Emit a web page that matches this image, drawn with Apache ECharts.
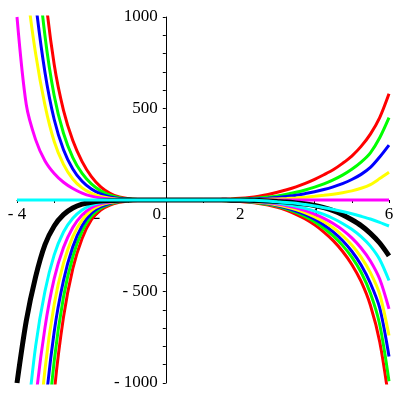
<!DOCTYPE html>
<html><head><meta charset="utf-8">
<script src="https://cdn.jsdelivr.net/npm/echarts@6/dist/echarts.min.js"></script>
<style>html,body{margin:0;padding:0;background:#fff}#c{width:400px;height:400px}</style>
</head><body><div id="c"></div>
<script>
var xs = [-4, -3.75, -3.5, -3.25, -3, -2.75, -2.5, -2.25, -2, -1.75, -1.5, -1.25, -1, -0.75, -0.5, -0.25,
          0, 0.25, 0.5, 0.75, 1, 1.25, 1.5, 1.75, 2, 2.25, 2.5, 2.75, 3, 3.25, 3.5, 3.75, 4, 4.25, 4.5, 4.75, 5, 5.25, 5.5, 5.75, 6];
// upper family
var posRed     = [4200, 2850, 1850, 1150, 740, 490, 325, 210, 128, 72, 37, 17, 7.5, 3, 1, 0.3,
                  0, 0, 0, 0.5, 1, 2, 3.5, 5.5, 9, 14, 21, 30, 42, 56, 72, 91, 113, 138, 165, 200, 240, 293, 360, 450, 580];
var posGreen   = [3000, 2050, 1400, 900, 570, 365, 232, 145, 88, 50, 26, 12, 5, 2, 0.6, 0.1,
                  0, 0, 0, 0.3, 0.8, 1.5, 2.5, 3.8, 5.5, 8, 11, 16, 22, 31, 42, 55, 70, 88, 110, 136, 168, 207, 258, 340, 450];
var posBlue    = [2300, 1580, 1080, 700, 440, 275, 170, 102, 60, 33, 17, 8, 3.5, 1.3, 0.4, 0,
                  0, 0, 0, 0.2, 0.5, 1, 1.6, 2.4, 3.5, 5, 7, 10, 14, 19.5, 26, 35, 45, 57, 72, 90, 112, 140, 178, 235, 300];
var posYellow  = [1650, 1180, 800, 520, 320, 195, 115, 66, 36, 19, 9.5, 4.5, 2, 0.7, 0.2, 0,
                  0, 0, 0, 0, 0.1, 0.3, 0.6, 1, 1.5, 2.2, 3, 4.3, 6, 8.5, 11.5, 15.5, 20, 25.5, 32, 40, 50, 64, 84, 117, 152];
var posMagenta = [1000, 520, 330, 215, 145, 97, 63, 38, 21, 11, 5.5, 2.5, 1, 0.3, 0, 0,
                  0, 0, 0, 0, 0, 0, 0, 0, 0, 0, 0, 0, 0, 0, 0, 0, 0, 0, 0, 0, 0, 0, 0, 0, 0];
var posCyan    = [0, 0, 0, 0, 0, 0, 0, 0, 0, 0, 0, 0, 0, 0, 0, 0,
                  0, 0, 0, 0, 0, 0, 0, 0, 0, -1, -3, -6, -10, -14, -18, -25, -33, -42, -52, -63, -75, -89, -104, -122, -142];
// lower family
var negRed     = [-7500, -4800, -3000, -1800, -1060, -640, -375, -210, -108, -55, -28, -13, -6, -2.5, -1, -0.3,
                  0, 0, -0.2, -0.5, -1, -2, -3, -5, -8, -12.5, -19, -28, -40, -57, -78, -104, -136, -175, -222, -280, -352, -445, -575, -775, -1100];
var negGreen   = [-5800, -3800, -2400, -1450, -880, -530, -310, -170, -88, -45, -22, -10, -5, -2, -0.7, -0.2,
                  0, 0, -0.2, -0.4, -0.9, -1.7, -2.7, -4.5, -7, -11, -16, -24, -35, -50, -68, -91, -119, -154, -196, -248, -312, -395, -510, -680, -990];
var negBlue    = [-4500, -3000, -1900, -1170, -720, -440, -255, -140, -72, -37, -18, -8.5, -4, -1.6, -0.5, -0.1,
                  0, 0, -0.1, -0.3, -0.8, -1.4, -2.3, -3.8, -6, -9.5, -14, -21, -31, -44, -60, -80, -105, -136, -174, -221, -280, -355, -455, -590, -855];
var negYellow  = [-3400, -2300, -1500, -930, -570, -345, -200, -110, -56, -28, -14, -6.5, -3, -1.2, -0.4, -0.1,
                  0, 0, -0.1, -0.3, -0.6, -1.1, -1.9, -3.2, -5, -8, -12, -18, -27, -38, -52, -70, -92, -119, -152, -194, -246, -312, -397, -515, -740];
var negMagenta = [-2500, -1700, -1100, -700, -430, -260, -150, -82, -42, -21, -11, -5, -2, -0.8, -0.3, 0,
                  0, 0, 0, -0.2, -0.5, -0.9, -1.5, -2.6, -4, -6.5, -10, -15, -22, -31, -43, -58, -77, -100, -128, -163, -207, -262, -333, -432, -595];
var negCyan    = [-1700, -1250, -800, -500, -300, -175, -100, -55, -28, -14, -7, -3.2, -1.4, -0.5, -0.1, 0,
                  0, 0, 0, -0.1, -0.3, -0.6, -1, -1.8, -3, -5, -8, -12, -17, -25, -34, -46, -61, -79, -101, -128, -160, -200, -252, -325, -440];
var negBlack   = [-1000, -660, -420, -245, -142, -80, -44, -23, -12, -6, -3, -1.3, -0.5, -0.2, 0, 0,
                  0, 0, 0, 0, -0.1, -0.2, -0.4, -0.7, -1.2, -2, -3, -5, -8, -11, -16, -22, -30, -42, -58, -80, -108, -140, -182, -235, -305];

var xTickLabels = {'-4': '- 4', '-2': '- 2', '0': '0', '2': '2', '4': '4', '6': '6'};
var yTickLabels = {'1000': '1000', '500': '500', '-500': '- 500', '-1000': '- 1000'};

var curves = [
  [posRed, '#ff0000', 3], [posGreen, '#00ff00', 3], [posBlue, '#0000ff', 3],
  [posYellow, '#ffff00', 3], [posMagenta, '#ff00ff', 3],
  [negRed, '#ff0000', 3], [negGreen, '#00ff00', 3], [negBlue, '#0000ff', 3],
  [negYellow, '#ffff00', 3], [negMagenta, '#ff00ff', 3], [negCyan, '#00ffff', 3],
  [negBlack, '#000000', 5], [posCyan, '#00ffff', 3]
];

var series = curves.map(function (c) {
  return {
    type: 'line', smooth: 0.3, showSymbol: false, clip: true,
    data: xs.map(function (x, i) { return [x, c[0][i]]; }),
    lineStyle: { color: c[1], width: c[2] }, itemStyle: { color: c[1] }
  };
});

var W = 400, H = 400, GL = 17, GR = 11, GT = 17, GB = 17;
var xMin = -4, xMax = 6, yMin = -1000, yMax = 1000;
var plotW = W - GL - GR, plotH = H - GT - GB;
var font = 'Liberation Serif';
var chart = echarts.init(document.getElementById('c'), null, { renderer: 'canvas' });
chart.setOption({
  animation: false,
  grid: { left: GL, right: GR, top: GT, bottom: GB, containLabel: false, outerBoundsMode: 'none' },
  xAxis: {
    type: 'value', min: xMin, max: xMax, interval: 1, position: 'bottom',
    offset: -plotH * (0 - yMin) / (yMax - yMin),
    axisLine: { onZero: false, lineStyle: { color: '#000', width: 1 } },
    axisTick: { show: true, length: 3, lineStyle: { color: '#000' } },
    splitLine: { show: false },
    axisLabel: {
      margin: 6, color: '#000', fontFamily: font, fontSize: 17,
      formatter: function (v) {
        var s = xTickLabels[String(v)];
        if (s === undefined) return '';
        return v === 0 ? '{z|0}' : s;
      },
      rich: { z: { padding: [0, 18, 0, 0], fontFamily: font, fontSize: 17, color: '#000' } }
    }
  },
  yAxis: {
    type: 'value', min: yMin, max: yMax, interval: 100, position: 'left',
    offset: -plotW * (0 - xMin) / (xMax - xMin),
    axisLine: { onZero: false, lineStyle: { color: '#000', width: 1 } },
    axisTick: { show: true, length: 3, lineStyle: { color: '#000' } },
    splitLine: { show: false },
    axisLabel: {
      margin: 8, color: '#000', fontFamily: font, fontSize: 17,
      formatter: function (v) { var s = yTickLabels[String(v)]; return s === undefined ? '' : s; }
    }
  },
  series: series
});
</script></body></html>
